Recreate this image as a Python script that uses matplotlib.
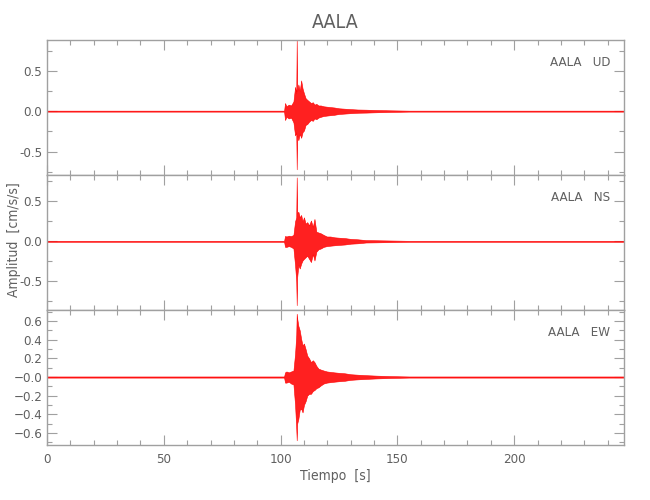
"""Three-component accelerogram of station AALA (UD / NS / EW)."""

import matplotlib
matplotlib.use("Agg")
import matplotlib.pyplot as plt
from matplotlib.ticker import MultipleLocator, FixedLocator, FixedFormatter, FormatStrFormatter

# ─── data: envelope of each trace ─────────────────────────────────────────────

station = "AALA"
components = ["UD", "NS", "EW"]

time_s = [0, 101.5, 101.9, 102.5, 103.5, 104.5, 105.5, 106.2, 106.7, 106.9,
          107.1, 107.6, 108.2, 108.8, 109.4, 110.0, 110.7, 111.4, 112.2, 113.0,
          113.8, 114.5, 115.3, 116.2, 117.2, 118.4, 119.8, 121.3, 123.0, 125.0,
          127.5, 130.0, 133.0, 136.5, 141.0, 147.0, 155.0, 248]

ud_hi = [0.006, 0.006, 0.10, 0.06, 0.08, 0.07, 0.12, 0.30, 0.22, 0.88,
         0.25, 0.33, 0.25, 0.38, 0.28, 0.22, 0.16, 0.14, 0.12, 0.10,
         0.11, 0.08, 0.09, 0.07, 0.07, 0.06, 0.055, 0.05, 0.045, 0.035,
         0.03, 0.025, 0.02, 0.018, 0.014, 0.010, 0.006, 0.006]
ud_lo = [-0.006, -0.006, -0.11, -0.07, -0.09, -0.08, -0.14, -0.30, -0.26, -0.72,
         -0.30, -0.36, -0.28, -0.33, -0.26, -0.24, -0.17, -0.16, -0.13, -0.11,
         -0.12, -0.09, -0.10, -0.08, -0.07, -0.06, -0.055, -0.05, -0.045, -0.035,
         -0.03, -0.025, -0.02, -0.018, -0.014, -0.010, -0.006, -0.006]

ns_hi = [0.006, 0.006, 0.067, 0.06, 0.07, 0.065, 0.08, 0.25, 0.30, 0.80,
         0.35, 0.37, 0.30, 0.33, 0.25, 0.30, 0.22, 0.24, 0.20, 0.26,
         0.18, 0.28, 0.12, 0.11, 0.10, 0.08, 0.06, 0.06, 0.05, 0.045,
         0.04, 0.03, 0.025, 0.015, 0.013, 0.010, 0.006, 0.006]
ns_lo = [-0.006, -0.006, -0.07, -0.07, -0.06, -0.07, -0.09, -0.30, -0.50, -0.80,
         -0.45, -0.30, -0.34, -0.28, -0.24, -0.22, -0.20, -0.18, -0.22, -0.26,
         -0.16, -0.24, -0.13, -0.10, -0.09, -0.07, -0.06, -0.055, -0.05, -0.045,
         -0.04, -0.03, -0.025, -0.015, -0.013, -0.010, -0.006, -0.006]

ew_hi = [0.006, 0.006, 0.05, 0.06, 0.05, 0.06, 0.07, 0.25, 0.45, 0.68,
         0.63, 0.55, 0.50, 0.41, 0.34, 0.36, 0.30, 0.23, 0.20, 0.16,
         0.18, 0.16, 0.12, 0.09, 0.08, 0.07, 0.06, 0.055, 0.05, 0.045,
         0.04, 0.03, 0.025, 0.02, 0.015, 0.010, 0.006, 0.006]
ew_lo = [-0.006, -0.006, -0.06, -0.06, -0.05, -0.07, -0.08, -0.30, -0.55, -0.68,
         -0.50, -0.45, -0.35, -0.34, -0.38, -0.30, -0.26, -0.20, -0.18, -0.18,
         -0.15, -0.14, -0.12, -0.11, -0.09, -0.07, -0.06, -0.055, -0.05, -0.045,
         -0.04, -0.03, -0.025, -0.02, -0.015, -0.010, -0.006, -0.006]

y_ranges = [(-0.79, 0.88), (-0.86, 0.83), (-0.73, 0.72)]
y_major = [0.5, 0.5, 0.2]
ew_tick_vals = [-0.6, -0.4, -0.2, 0.0, 0.2, 0.4, 0.6]
ew_tick_text = ["\u22120.6", "\u22120.4", "\u22120.2", "\u22120.0", "0.2", "0.4", "0.6"]
x_max = 247

# ─── style ───────────────────────────────────────────────────────────────────

AXIS = "#a0a0a0"
TEXT = "#606060"
plt.rcParams.update({
    "font.family": ["DejaVu Sans"],
    "font.stretch": "condensed",
    "axes.edgecolor": AXIS,
    "axes.linewidth": 1.0,
    "xtick.color": AXIS,
    "ytick.color": AXIS,
    "xtick.labelcolor": TEXT,
    "ytick.labelcolor": TEXT,
    "xtick.direction": "in",
    "ytick.direction": "in",
    "xtick.labelsize": 9.5,
    "ytick.labelsize": 9.5,
})

fig, axes = plt.subplots(3, 1, figsize=(6.5, 5), dpi=100, sharex=True)
fig.subplots_adjust(left=0.0723, right=0.96, bottom=0.11, top=0.92, hspace=0)

traces = [(ud_lo, ud_hi), (ns_lo, ns_hi), (ew_lo, ew_hi)]
for ax, comp, (lo, hi), yr, ym in zip(axes, components, traces, y_ranges, y_major):
    ax.fill_between(time_s, lo, hi, facecolor="#ff2020", edgecolor="#ff0000",
                    lw=0.4, zorder=2)
    ax.set_xlim(0, x_max)
    ax.set_ylim(*yr)
    ax.xaxis.set_major_locator(MultipleLocator(50))
    ax.xaxis.set_minor_locator(MultipleLocator(10))
    ax.yaxis.set_major_locator(MultipleLocator(ym))
    ax.yaxis.set_minor_locator(MultipleLocator(ym / 2))
    ax.yaxis.set_major_formatter(FormatStrFormatter("%.1f"))
    ax.tick_params(which="both", top=True, right=True, width=0.8)
    ax.tick_params(which="major", length=7)
    ax.tick_params(which="minor", length=3.6)
    ax.text(0.976, 0.83, f"{station}   {comp}", transform=ax.transAxes,
            ha="right", va="center", fontsize=9.5, color=TEXT)

axes[2].yaxis.set_major_locator(FixedLocator(ew_tick_vals))
axes[2].yaxis.set_major_formatter(FixedFormatter(ew_tick_text))
axes[2].tick_params(axis="x", pad=6)

axes[0].set_title(station, fontsize=14, color=TEXT, pad=9)
axes[2].set_xlabel("Tiempo  [s]", fontsize=10, color=TEXT, labelpad=2)
fig.text(0.022, 0.52, "Amplitud  [cm/s/s]", rotation=90, ha="center",
         va="center", fontsize=10, color=TEXT)

fig.savefig("out.png", dpi=100)
